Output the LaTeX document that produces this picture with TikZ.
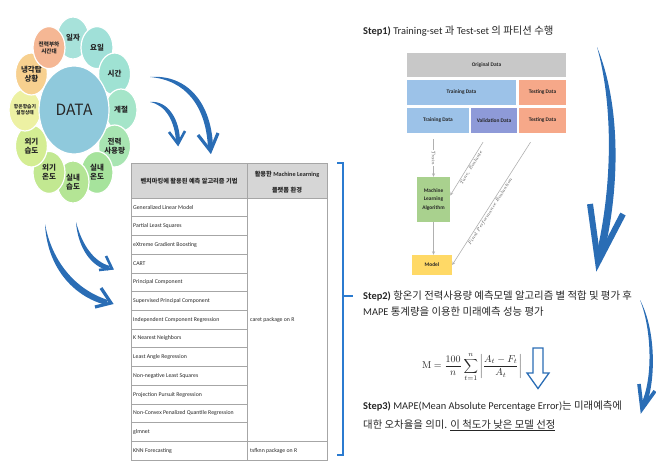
\documentclass[tikz,border=0pt]{standalone}
\usepackage[no-math]{fontspec}
\newfontfamily\kr{Noto Sans CJK KR}
\newfontfamily\cb{Carlito}
\usetikzlibrary{calc,arrows.meta,shapes.geometric}
\definecolor{arrowblue}{HTML}{2A6DB5}
\definecolor{brblue}{HTML}{2B7BD0}
\definecolor{dataC}{HTML}{8FC9DC}
\definecolor{tgray}{HTML}{A6A6A6}
\definecolor{hgray}{HTML}{D6D6D6}
\definecolor{origC}{HTML}{C8C8C8}
\definecolor{trainC}{HTML}{9CC2E8}
\definecolor{testC}{HTML}{F6A889}
\definecolor{valC}{HTML}{8E9AD8}
\definecolor{mlC}{HTML}{A9D18E}
\definecolor{modelC}{HTML}{FFD966}
\definecolor{lineC}{HTML}{B0B0B0}
\definecolor{txt}{HTML}{262626}
\definecolor{cA}{HTML}{A7E2DA}
\definecolor{cB}{HTML}{A0E0D8}
\definecolor{cC}{HTML}{9FE2D3}
\definecolor{cD}{HTML}{A5E5C9}
\definecolor{cE}{HTML}{A8E5B2}
\definecolor{cF}{HTML}{A6E39C}
\definecolor{cG}{HTML}{B4E595}
\definecolor{cH}{HTML}{C2E891}
\definecolor{cI}{HTML}{D4ED93}
\definecolor{cJ}{HTML}{EDF1A3}
\definecolor{cK}{HTML}{F7D08F}
\definecolor{cL}{HTML}{F5B794}
\tikzset{
  smallc/.style={ellipse, draw=white, line width=1.2pt, minimum width=32pt, minimum height=42pt, inner sep=0pt, align=center, text=txt, font=\kr\bfseries\fontsize{7.5}{9}\selectfont},
  brush/.style={fill=arrowblue, draw=none},
  barb/.style={draw=arrowblue, line cap=butt, line join=miter},
  tline/.style={draw=tgray, line width=0.6pt},
  tcell/.style={anchor=west, inner sep=0pt, text=txt, font=\cb\fontsize{5.8}{6.5}\selectfont},
  pbox/.style={minimum height=24pt, inner sep=0pt, text=txt, font=\cb\bfseries\fontsize{5.4}{6}\selectfont},
  pline/.style={draw=lineC, line width=0.6pt, -{Stealth[length=3.5pt,width=3pt]}},
  plabel/.style={font=\itshape\fontsize{5}{6}\selectfont, text=black!70, inner sep=1pt},
  steptxt/.style={anchor=base west, inner sep=0pt, text=txt, font=\cb\fontsize{10.4}{12}\selectfont}
}
\begin{document}
\begin{tikzpicture}[x=1pt,y=-1pt]
\useasboundingbox (0,0) rectangle (656,464);

% ---------- data circle ----------
\node[smallc, fill=cA] (d1) at (73,38) {일자};
\node[smallc, fill=cB] (d2) at (97,47.6) {요일};
\node[smallc, fill=cC] (d3) at (114.6,74) {시간};
\node[smallc, fill=cD] (d4) at (121,110) {계절};
\node[smallc, fill=cE] (d5) at (114.6,146) {전력\\사용량};
\node[smallc, fill=cF] (d6) at (97,172.4) {실내\\온도};
\node[smallc, fill=cG] (d7) at (73,182) {실내\\습도};
\node[smallc, fill=cH] (d8) at (49,172.4) {외기\\온도};
\node[smallc, fill=cI] (d9) at (31.4,146) {외기\\습도};
\node[smallc, fill=cJ, font=\kr\bfseries\fontsize{4.8}{6}\selectfont] (d10) at (25,110) {항온항습기\\설정상태};
\node[smallc, fill=cK] (d11) at (31.4,74) {냉각탑\\상황};
\node[smallc, fill=cL, font=\kr\bfseries\fontsize{5.6}{7}\selectfont] (d12) at (49,47.6) {전력부하\\시간대};
\node[ellipse, fill=dataC, draw=white, line width=1.2pt, minimum width=70pt, minimum height=88pt, text=txt, font=\kr\fontsize{15.5}{16}\selectfont] (data) at (74,110) {DATA};

% ---------- brush arrows ----------
% upper pair to table
\fill[brush] (150,77) .. controls (185,80) and (206,105) .. (208,148) -- (213,148) .. controls (212,103) and (187,74) .. (150,77);
\draw[barb, line width=3.2pt] (198,135) -- (210.5,151) -- (218,133);
\fill[brush] (150,102) .. controls (166,105) and (175,122) .. (176,142) -- (180,142) .. controls (180,120) and (168,100) .. (150,102);
\draw[barb, line width=2.6pt] (169,132) -- (178,144) -- (185,131);
% lower pair to table
\fill[brush] (45,224) .. controls (52,262) and (76,290) .. (108,300) -- (106,305) .. controls (72,296) and (47,266) .. (45,224);
\draw[barb, line width=3.2pt] (101,288) -- (111,303) -- (95,307);
\fill[brush] (76,222) .. controls (82,245) and (94,262) .. (110,266) -- (108,270.5) .. controls (91,266) and (78,248) .. (76,222);
\draw[barb, line width=2.6pt] (106,256) -- (112,268.5) -- (99,270);
% big right arrow
\fill[brush] (597,47) .. controls (612,100) and (614,180) .. (596,256) -- (603,258) .. controls (622,180) and (619,100) .. (597,47);
\draw[barb, line width=6pt] (590,204) -- (598,262) -- (623,214);
% lower right arrow
\fill[brush] (640,300) .. controls (652,330) and (653,380) .. (641,404) -- (646,406) .. controls (656,380) and (656,330) .. (640,300);
\draw[barb, line width=3.6pt] (639,384) -- (642,409) -- (655,391);

% ---------- table ----------
\fill[hgray] (131,163) rectangle (327,198);
\draw[tline] (131,163) rectangle (327,460);
\draw[tline] (247,163) -- (247,460);
\draw[tline] (131,198) -- (327,198);
\foreach \i in {1,...,12} \draw[tline] (131,{198+\i*18.714}) -- (247,{198+\i*18.714});
\draw[tline] (131,{198+13*18.714}) -- (327,{198+13*18.714});
\node[text=txt, font=\kr\bfseries\fontsize{6.2}{7}\selectfont] (h1) at (189,181) {벤치마킹에 활용된 예측 알고리즘 기법};
\node[text=txt, font=\kr\bfseries\fontsize{6.2}{7}\selectfont] (h2a) at (287,174) {활용한 {\cb Machine Learning}};
\node[text=txt, font=\kr\bfseries\fontsize{6.2}{7}\selectfont] (h2b) at (287,190) {플랫폼 환경};
\foreach \i/\t in {1/Generalized Linear Model, 2/Partial Least Squares, 3/eXtreme Gradient Boosting, 4/CART, 5/Principal Component, 6/Supervised Principal Component, 7/Independent Component Regression, 8/K Nearest Neighbors, 9/Least Angle Regression, 10/Non-negative Least Squares, 11/Projection Pursuit Regression, 12/Non-Convex Penalized Quantile Regression, 13/glmnet, 14/KNN Forecasting}
  \node[tcell] (r\i) at (133,{198+(\i-0.5)*18.714}) {\t};
\node[tcell] (caret) at (250,{198+6.5*18.714}) {caret package on R};
\node[tcell] (tsf) at (250,{198+13.5*18.714}) {tsfknn package on R};

% bracket
\draw[brblue, line width=1.6pt] (337,163) -- (343,163) -- (343,455) -- (337,455);
\draw[brblue, line width=1.6pt] (343,296) -- (353,296);

% ---------- Step 1 ----------
\node[steptxt] (s1) at (363,34) {\textbf{Step1)} Training-set {\kr 과} Test-set {\kr 의 파티션 수행}};

\node[pbox, fill=origC, minimum width=159pt] (orig) at (486.5,65) {Original Data};
\node[pbox, fill=trainC, minimum width=109pt, minimum height=25pt] (tr1) at (461.5,92.5) {Training Data};
\node[pbox, fill=testC, minimum width=47pt, minimum height=25pt] (te1) at (542.5,92.5) {Testing Data};
\node[pbox, fill=trainC, minimum width=62pt, minimum height=25pt] (tr2) at (438,120.5) {Training Data};
\node[pbox, fill=valC, minimum width=46pt, minimum height=25pt] (val) at (494,120.5) {Validation Data};
\node[pbox, fill=testC, minimum width=47pt, minimum height=25pt] (te2) at (542.5,120.5) {Testing Data};

\node[pbox, fill=mlC, minimum width=33pt, minimum height=45pt, align=center, font=\cb\bfseries\fontsize{5.4}{8.5}\selectfont] (ml) at (433.5,199.5) {Machine\\Learning\\Algorithm};
\node[pbox, fill=modelC, minimum width=40pt, minimum height=20pt] (model) at (432,265) {Model};

\draw[pline] ($(ml.north |- tr2.south)+(0,6)$) -- node[plabel, fill=white, rotate=-90] (trl) {Train} (ml.north);
\draw[pline] ($(val.south)+(-11,9)$) -- node[plabel, sloped, below, pos=0.45] (tel) {Tune, Evaluate} ($(ml.east)+(0,-4)$);
\draw[pline] ($(te2.south)+(-12,9)$) -- node[plabel, sloped, below, pos=0.55] (fpl) {Final Performance Evaluation} (model.east);
\draw[pline] (ml.south) -- (ml.south |- model.north);

% ---------- Step 2 ----------
\node[steptxt] (s2a) at (363,299) {\textbf{Step2)} {\kr 항온기 전력사용량 예측모델 알고리즘 별 적합 및 평가 후}};
\node[steptxt] (s2b) at (363,315) {MAPE {\kr 통계량을 이용한 미래예측 성능 평가}};

\node[text=txt, font=\fontsize{10}{12}\selectfont] (mape) at (472,367) {$\displaystyle \mathrm{M}=\frac{100}{n}\sum_{t=1}^{n}\left|\frac{A_t-F_t}{A_t}\right|$};
\draw[arrowblue, line width=1.3pt, fill=white, line join=miter] (533,348) -- (543,348) -- (543,373) -- (549,373) -- (538,388.5) -- (527,373) -- (533,373) -- cycle;

% ---------- Step 3 ----------
\node[steptxt] (s3a) at (363,409) {\textbf{Step3)} MAPE(Mean Absolute Percentage Error){\kr 는 미래예측에}};
\node[steptxt] (s3b) at (363,428) {{\kr 대한 오차율을 의미.} \underline{\kr 이 척도가 낮은 모델 선정}};
\end{tikzpicture}
\end{document}
